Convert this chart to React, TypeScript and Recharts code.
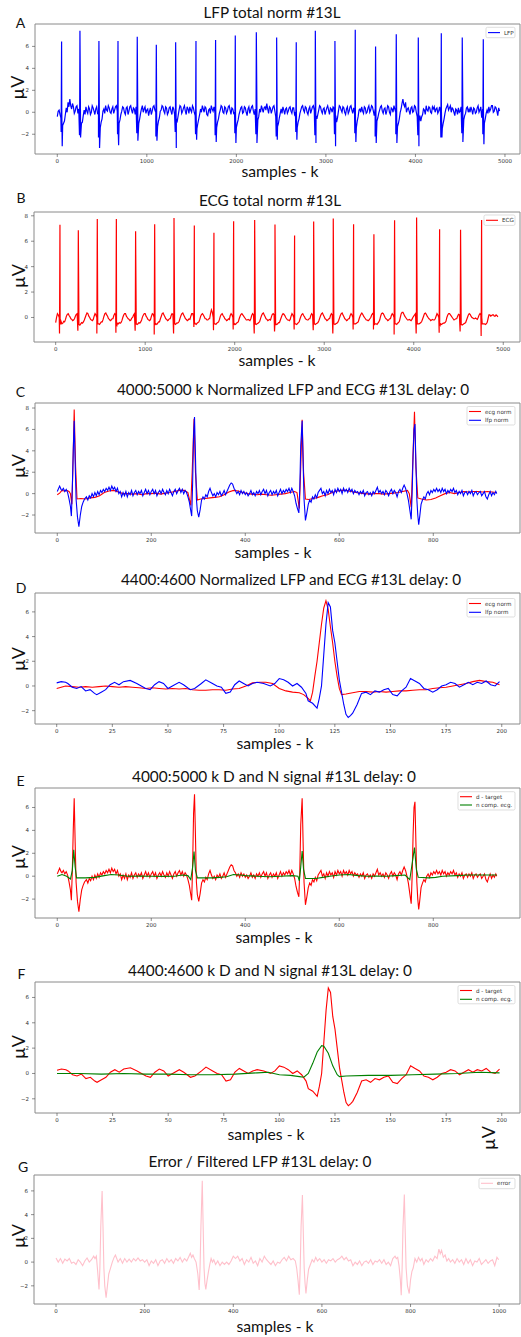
import React from 'react';
import { LineChart, Line, XAxis, YAxis, ReferenceArea } from 'recharts';

type Pt = [number, number];

// ---------- Panel A / B : whole recording (samples 0..4940) ----------
const beatSamples = [48, 253, 465, 678, 893, 1106, 1322, 1549, 1768, 1988, 2223, 2450, 2669, 2882, 3101, 3328, 3555, 3786, 4032, 4289, 4523, 4758];
const lfpPreDip = [-1.8, -2.1, -2.3, -2.0, -1.9, -2.2, -1.8, -2.0, -2.1, -1.9, -2.0, -2.2, -1.8, -2.1, -2.0, -1.9, -2.2, -2.0, -2.1, -2.3, -1.9, -2.0];
const lfpPeak = [6.45, 7.43, 6.5, 6.5, 6.88, 6.15, 6.37, 6.5, 6.58, 7.0, 7.28, 6.8, 6.37, 7.43, 6.5, 7.52, 6.0, 7.1, 6.82, 7.19, 6.8, 6.64];
const lfpTrough = [-3.1, -2.3, -3.25, -3.0, -2.6, -2.6, -3.25, -2.5, -2.7, -2.8, -2.8, -2.5, -2.5, -2.8, -3.1, -2.7, -2.8, -2.8, -3.1, -2.3, -2.7, -2.9];
const noiseStep = 20;
// LFP baseline at samples 0, 20, 40, ...
const lfpNoise = [
  -0.4, 0.2, -0.5, -1.2, -0.8, 0.4, 0.9, 1.2, 0.3, 0.5,
  0.1, 0.6, 0.3, -1.6, -0.9, 0.2, 0.5, -0.1, 0.3, 0.0,
  0.4, -0.2, 0.5, 0.0, -1.4, -0.6, 0.3, 0.6, 0.1, 0.4,
  -0.1, 0.5, 0.2, 0.6, -1.5, -0.7, 0.1, 0.4, -0.2, 0.5,
  0.1, 0.6, -0.1, 0.3, 0.5, -1.4, -0.6, 0.3, 0.0, 0.5,
  0.2, -0.3, 0.4, 0.1, 0.6, 0.0, -1.3, -0.5, 0.2, 0.5,
  -0.1, 0.4, 0.0, 0.5, -0.2, 0.3, 0.0, -0.8, 0.2, 0.5,
  0.1, 0.6, -0.2, 0.3, 0.5, 0.0, 0.4, -0.3, -1.5, -0.6,
  0.3, 0.6, 0.0, 0.4, -0.3, 0.3, 0.6, 0.1, 0.0, -1.4,
  -0.6, 0.2, 0.5, -0.1, 0.4, 0.1, 0.6, -0.2, 0.3, 0.0,
  -1.4, -0.7, 0.1, 0.5, 0.0, 0.4, -0.3, 0.5, 0.2, 0.6,
  -0.2, 0.0, -0.7, 0.3, 0.6, 0.0, 0.5, 0.8, -0.1, 0.4,
  0.2, 0.6, -0.4, -1.3, -0.5, 0.3, 0.5, -0.2, 0.4, 0.1,
  0.5, -0.1, 0.4, 0.0, -1.4, -0.6, 0.2, 0.6, 0.0, 0.4,
  -0.2, 0.5, 0.2, 0.6, 0.0, -0.6, 0.2, 0.5, -0.1, 0.4,
  0.1, 0.6, -0.2, 0.3, 0.5, 0.0, -0.9, 0.1, 0.5, 0.0,
  0.4, -0.2, 0.5, 0.1, 0.6, -0.1, 0.0, -1.4, -0.4, 0.3,
  0.5, -0.1, 0.4, 0.0, 0.6, 0.2, 0.5, -0.3, -1.3, -0.5,
  0.2, 0.6, -0.1, 0.4, 0.1, 0.5, -0.2, 0.3, 0.6, 0.0,
  -1.3, -0.6, 0.3, 1.2, 0.5, 0.0, 0.4, -0.2, 0.5, 0.1,
  0.5, -0.4, -0.9, -0.8, -0.2, 0.2, 0.6, 0.1, 0.4, -0.1,
  0.3, 0.0, 0.4, 0.1, 0.0, -1.5, -0.6, 0.3, 0.7, 0.4,
  0.0, 0.3, -0.3, 0.2, 0.4, 0.1, 0.0, -0.7, -0.1, 0.5,
  0.3, 0.5, -0.2, 0.3, 0.0, 0.6, 0.2, -0.5, 0.0, -0.6,
  0.2, 0.5, 0.3, 0.6, 0.1, 0.4, -0.3, 0.1,
];
// LFP baseline at samples 10, 30, 50, ...
const lfpNoiseMid = [
  0.1, -0.2, 0.3, -1.0, -0.2, 0.0, 0.5, 0.6, 0.8, -0.1,
  0.5, -0.1, 0.0, -1.0, -0.3, -0.2, 0.1, 0.5, -0.2, 0.6,
  0.1, 0.3, -0.1, -0.5, -0.9, 0.1, -0.1, 0.2, 0.6, 0.0,
  0.3, -0.1, 0.5, 0.1, -1.0, -0.2, 0.5, 0.0, 0.4, -0.2,
  0.5, 0.2, 0.4, -0.2, 0.1, -1.0, -0.1, 0.6, 0.3, -0.1,
  0.3, 0.1, -0.2, 0.5, 0.2, -0.5, -0.8, 0.1, 0.6, 0.1,
  0.5, -0.2, 0.4, 0.1, 0.5, -0.2, -0.6, -0.3, 0.6, -0.1,
  0.4, 0.1, 0.5, -0.1, 0.2, 0.6, 0.0, 0.3, -1.0, -0.2,
  0.0, 0.3, 0.5, -0.2, 0.2, -0.1, 0.3, 0.5, 0.2, -0.9,
  -0.1, 0.6, 0.0, 0.5, -0.1, 0.5, 0.2, 0.4, -0.1, 0.4,
  -1.0, -0.2, 0.4, -0.1, 0.5, 0.0, 0.3, -0.1, 0.5, 0.1,
  0.3, 0.0, -0.4, 0.0, 0.3, 0.4, 0.2, 0.3, 0.5, -0.1,
  0.5, 0.1, 0.2, -1.0, -0.1, -0.1, 0.2, 0.3, -0.1, 0.4,
  0.1, 0.4, -0.2, 0.3, -0.9, -0.1, 0.5, 0.2, 0.5, 0.0,
  0.3, -0.1, 0.5, 0.2, -0.3, -0.2, 0.6, 0.1, 0.3, -0.2,
  0.4, 0.2, 0.4, 0.0, 0.4, -0.3, -0.5, 0.6, 0.2, 0.5,
  0.0, 0.3, -0.1, 0.5, 0.2, 0.4, -0.3, -0.8, 0.2, 0.0,
  0.1, 0.5, -0.1, 0.4, 0.0, 0.6, 0.1, 0.3, -0.8, -0.1,
  0.5, 0.1, 0.3, -0.2, 0.6, 0.0, 0.4, 0.0, 0.3, 0.4,
  -1.0, 0.0, 0.8, 0.7, 0.9, 0.3, 0.1, 0.4, 0.0, 0.6,
  0.0, 0.1, -0.3, -0.4, 0.3, -0.2, 0.2, 0.5, 0.0, 0.5,
  0.5, 0.3, -0.1, 0.5, 0.3, -1.0, -0.1, 0.5, 0.2, 0.6,
  0.4, 0.0, 0.3, -0.2, 0.0, 0.5, -0.3, -0.3, 0.4, 0.0,
  0.0, 0.2, 0.4, -0.1, 0.4, 0.0, 0.5, 0.3, -1.0, -0.1,
  -0.1, 0.1, 0.6, 0.0, 0.5, 0.1, 0.4,
];

const ecgQDip = [-1.26, -1.05, -1.26, -1.2, -1.05, -1.34, -1.26, -0.75, -1.0, -0.95, -1.26, -1.1, -0.95, -1.0, -1.26, -0.95, -0.95, -1.34, -1.26, -1.2, -1.1, -1.45];
const ecgPeak = [7.29, 6.87, 7.74, 7.74, 6.79, 7.34, 7.82, 7.24, 6.66, 7.58, 7.68, 7.32, 6.45, 7.55, 7.79, 7.34, 6.55, 7.66, 7.87, 6.95, 6.9, 7.68];
const ecgS = [-0.5, -0.55, -0.5, -0.6, -0.5, -0.55, -0.5, -0.45, -0.5, -0.55, -0.5, -0.6, -0.5, -0.55, -0.5, -0.5, -0.55, -0.5, -0.5, -0.6, -0.55, -0.5];
// ECG baseline at samples 0, 20, 40, ...
const ecgBase = [
  -0.4, 0.3, 0.0, -0.3, -0.45, -0.35, 0.1, 0.3, 0.05, -0.15,
  -0.2, 0.1, 0.3, -0.5, -0.5, -0.45, -0.2, 0.2, 0.3, 0.0,
  -0.2, -0.15, 0.3, 0.0, -0.5, -0.45, -0.35, 0.1, 0.35, 0.1,
  -0.15, -0.2, -0.1, 0.3, -0.5, -0.5, -0.45, -0.25, 0.2, 0.3,
  0.0, -0.15, -0.2, 0.0, 0.3, -0.5, -0.5, -0.45, -0.2, 0.2,
  0.3, 0.0, -0.2, -0.15, 0.3, 0.0, -0.5, -0.45, -0.35, 0.1,
  0.35, 0.05, -0.15, -0.2, -0.1, 0.3, 0.0, -0.55, -0.45, -0.3,
  0.15, 0.35, 0.05, -0.15, -0.2, -0.15, 0.3, 0.1, -0.5, -0.45,
  -0.35, 0.1, 0.3, 0.05, -0.1, -0.2, -0.1, 0.6, 0.0, -0.5,
  -0.45, -0.35, 0.1, 0.3, 0.05, -0.15, -0.2, -0.15, 0.3, 0.0,
  -0.5, -0.45, -0.35, 0.1, 0.3, 0.1, -0.1, -0.2, -0.2, -0.1,
  0.3, 0.0, -0.55, -0.45, -0.3, 0.15, 0.35, 0.05, -0.15, -0.2,
  -0.2, 0.25, 0.2, -0.5, -0.5, -0.4, 0.0, 0.3, 0.15, -0.1,
  -0.2, -0.15, 0.3, 0.0, -0.5, -0.5, -0.35, 0.1, 0.3, 0.05,
  -0.15, -0.2, -0.1, 0.3, 0.0, -0.55, -0.45, -0.25, 0.15, 0.35,
  0.05, -0.15, -0.2, -0.1, 0.3, 0.0, -0.55, -0.45, -0.25, 0.15,
  0.35, 0.05, -0.15, -0.2, -0.1, 0.3, 0.0, -0.5, -0.45, -0.35,
  0.1, 0.35, 0.1, -0.1, -0.2, -0.2, 0.0, 0.3, 0.0, -0.5,
  -0.45, -0.2, 0.3, 0.3, 0.0, -0.15, -0.2, -0.1, 0.3, 0.0,
  -0.5, -0.45, -0.3, 0.3, 0.4, 0.1, -0.1, -0.2, -0.2, -0.15,
  0.1, 0.3, -0.5, -0.5, -0.4, -0.1, 0.3, 0.25, 0.0, -0.15,
  -0.2, -0.2, -0.1, 0.3, 0.0, -0.5, -0.5, -0.45, -0.3, 0.2,
  0.3, 0.1, -0.1, -0.15, -0.1, 0.25, 0.0, -0.6, -0.5, -0.4,
  0.0, 0.3, 0.1, -0.05, -0.1, -0.1, 0.0, 0.3, 0.0, -0.5,
  -0.55, -0.4, 0.2, 0.1, 0.2, 0.1, 0.2, 0.05,
];
// ECG baseline at samples 10, 30, 50, ...
const ecgBaseMid = [
  0.0, 0.2, -0.5, -0.5, -0.3, -0.15, 0.25, 0.15, -0.1, -0.25,
  -0.1, 0.25, 0.1, -0.6, -0.4, -0.35, 0.0, 0.35, 0.1, -0.15,
  -0.25, 0.1, 0.2, -0.5, -0.55, -0.35, -0.15, 0.3, 0.2, -0.1,
  -0.25, -0.1, 0.15, 0.2, -0.45, -0.4, -0.4, 0.0, 0.3, 0.1,
  -0.1, -0.25, -0.05, 0.2, 0.1, -0.55, -0.4, -0.35, 0.05, 0.3,
  0.1, -0.15, -0.25, 0.1, 0.25, -0.5, -0.55, -0.35, -0.1, 0.3,
  0.2, -0.1, -0.25, -0.1, 0.15, 0.25, -0.5, -0.45, -0.4, -0.05,
  0.3, 0.2, -0.1, -0.25, -0.1, 0.1, 0.3, -0.5, -0.55, -0.4,
  -0.15, 0.25, 0.2, -0.1, -0.2, -0.1, 0.3, 0.4, -0.5, -0.55,
  -0.4, -0.15, 0.25, 0.15, -0.1, -0.25, -0.1, 0.15, 0.2, -0.5,
  -0.55, -0.4, -0.1, 0.25, 0.2, 0.0, -0.2, -0.15, -0.25, 0.15,
  0.2, -0.5, -0.5, -0.4, -0.05, 0.3, 0.2, -0.1, -0.25, -0.15,
  0.05, 0.3, -0.4, -0.55, -0.4, -0.2, 0.2, 0.25, 0.0, -0.2,
  -0.25, 0.1, 0.2, -0.5, -0.55, -0.4, -0.1, 0.25, 0.15, -0.1,
  -0.2, -0.1, 0.15, 0.2, -0.5, -0.5, -0.4, -0.05, 0.3, 0.2,
  -0.1, -0.25, -0.1, 0.15, 0.2, -0.5, -0.5, -0.4, -0.05, 0.3,
  0.2, -0.1, -0.25, -0.1, 0.15, 0.2, -0.5, -0.5, -0.4, -0.1,
  0.25, 0.25, 0.0, -0.2, -0.25, -0.1, 0.2, 0.2, -0.5, -0.55,
  -0.35, 0.1, 0.35, 0.15, -0.1, -0.25, -0.1, 0.15, 0.2, -0.5,
  -0.55, -0.4, 0.0, 0.4, 0.25, 0.0, -0.2, -0.15, -0.25, 0.0,
  0.2, 0.2, -0.5, -0.45, -0.3, 0.1, 0.35, 0.1, -0.1, -0.25,
  -0.15, -0.2, 0.1, 0.2, -0.5, -0.55, -0.45, -0.4, 0.0, 0.3,
  0.2, 0.0, -0.2, -0.1, 0.1, 0.2, -0.5, -0.55, -0.45, -0.2,
  0.2, 0.25, 0.0, -0.1, -0.05, -0.15, 0.2, 0.2, -0.5, -0.5,
  -0.5, -0.1, 0.2, 0.15, 0.2, 0.1, 0.15,
];

// ---------- Panel C / E : window 4000:5000 ----------
const winEcg: Pt[] = [
  [0, -0.1], [5, 0.05], [10, 0.3], [15, 0.25], [20, 0.3], [25, 0.2], [28, 0.0], [31, -1.0], [33, 2.0], [36, 7.85], [39, 2.5], [42, -0.5],
  [50, -0.45], [60, -0.5], [70, -0.4], [80, -0.35], [90, -0.2], [100, 0.1], [110, 0.25], [120, 0.3], [130, 0.15], [140, 0.0], [150, 0.0],
  [160, -0.05], [170, 0.0], [180, -0.1], [190, 0.0], [200, 0.0], [210, 0.05], [220, -0.05], [230, 0.05], [240, 0.1], [250, 0.2], [260, 0.3],
  [270, 0.3], [278, 0.1], [284, -1.1], [287, 2.0], [291, 7.0], [294, 2.0], [298, -0.6], [305, -0.5], [315, -0.45], [325, -0.4], [335, -0.35],
  [345, -0.3], [355, -0.1], [365, 0.15], [375, 0.3], [385, 0.25], [395, 0.1], [405, 0.0], [415, -0.05], [425, -0.1], [435, -0.05], [445, -0.1],
  [455, -0.15], [465, -0.1], [475, -0.05], [485, 0.0], [495, 0.1], [505, 0.2], [510, 0.1], [515, -1.4], [518, 2.5], [521, 6.9], [524, 2.0],
  [528, -0.5], [535, -0.55], [545, -0.45], [555, -0.35], [565, -0.2], [575, -0.1], [585, 0.1], [595, 0.25], [605, 0.3], [615, 0.3], [625, 0.2],
  [635, 0.1], [645, 0.05], [655, 0.0], [665, -0.05], [675, 0.0], [685, 0.0], [695, -0.05], [705, 0.0], [715, 0.05], [725, 0.1], [735, 0.2],
  [745, 0.3], [749, 0.0], [753, -1.3], [756, 2.5], [760, 7.65], [763, 2.5], [767, -0.4], [775, -0.5], [785, -0.6], [795, -0.55], [805, -0.4],
  [815, -0.2], [825, 0.0], [835, 0.1], [845, 0.0], [855, 0.1], [865, 0.2], [875, 0.15], [885, 0.2], [895, 0.2], [905, 0.15], [915, 0.2],
  [925, 0.15], [935, 0.1],
];
const winLfp: Pt[] = [
  [0, 0.2], [5, 0.7], [8, 0.4], [10, 0.3], [13, 0.5], [16, 0.2], [19, 0.4], [22, 0.1], [25, -0.5], [28, -1.2], [30, -2.1], [32, 0.5], [34, 4.0],
  [36, 6.8], [38, 3.0], [40, -0.5], [43, -2.2], [46, -3.1], [49, -2.0], [52, -1.2], [55, -0.8], [58, -0.5], [62, -0.3], [65, -0.6], [68, -0.2],
  [71, -0.4], [74, 0.0], [77, -0.3], [80, 0.1], [83, -0.2], [86, 0.2], [89, -0.1], [92, 0.3], [95, 0.1], [98, 0.4], [101, 0.2], [104, 0.5],
  [107, 0.3], [110, 0.6], [113, 0.3], [116, 0.7], [119, 0.4], [122, 0.6], [125, 0.2], [128, 0.5], [131, 0.0], [134, 0.2], [137, -0.3], [140, 0.1],
  [143, -0.2], [146, 0.2], [149, -0.3], [152, 0.1], [155, -0.1], [158, 0.3], [161, -0.2], [164, 0.1], [167, 0.3], [170, -0.1], [173, 0.2],
  [176, 0.0], [179, 0.3], [182, -0.2], [185, 0.1], [188, 0.4], [191, 0.0], [194, 0.3], [197, -0.1], [200, 0.2], [203, 0.4], [206, 0.0],
  [209, 0.3], [212, -0.2], [215, 0.1], [218, 0.3], [221, 0.0], [224, 0.4], [227, 0.1], [230, -0.1], [233, 0.3], [236, 0.0], [239, 0.4],
  [242, 0.1], [245, -0.2], [248, 0.2], [251, 0.4], [254, 0.0], [257, 0.3], [260, 0.5], [263, 0.1], [266, 0.4], [269, 0.0], [272, 0.3],
  [275, 0.1], [278, -0.3], [281, -0.8], [284, -1.6], [286, -2.1], [288, 1.0], [290, 5.5], [292, 7.15], [294, 3.5], [296, -0.5], [298, -1.6],
  [301, -2.2], [304, -1.5], [307, -0.6], [310, -0.3], [313, -0.5], [316, -0.1], [319, -0.3], [322, 0.2], [325, 0.5], [328, 0.1], [331, -0.2],
  [334, 0.0], [337, -0.3], [340, 0.1], [343, -0.1], [346, 0.2], [349, -0.2], [352, 0.0], [355, 0.3], [358, -0.1], [361, 0.2], [364, 0.5],
  [367, 0.8], [370, 1.0], [373, 0.9], [376, 0.5], [379, 0.3], [382, 0.0], [385, 0.2], [388, -0.1], [391, 0.3], [394, 0.0], [397, 0.2],
  [400, -0.1], [403, 0.1], [406, -0.2], [409, 0.0], [412, 0.3], [415, -0.1], [418, 0.1], [421, -0.2], [424, 0.2], [427, 0.0], [430, 0.3],
  [433, -0.1], [436, 0.2], [439, 0.4], [442, 0.0], [445, 0.3], [448, -0.2], [451, 0.1], [454, 0.3], [457, -0.1], [460, 0.2], [463, 0.0],
  [466, 0.3], [469, -0.2], [472, 0.1], [475, 0.4], [478, 0.0], [481, 0.3], [484, 0.1], [487, 0.4], [490, 0.2], [493, 0.5], [496, 0.1],
  [499, 0.5], [502, 0.2], [505, -0.2], [508, -0.9], [511, -1.4], [514, -1.8], [516, 0.5], [518, 4.5], [521, 6.8], [523, 3.0], [525, -0.5],
  [528, -2.5], [531, -1.8], [534, -1.0], [537, -0.6], [540, -0.8], [543, -0.3], [546, -0.5], [549, -0.1], [552, -0.4], [555, 0.1], [558, 0.3],
  [561, 0.5], [564, 0.0], [567, 0.2], [570, -0.2], [573, 0.3], [576, 0.0], [579, 0.4], [582, 0.1], [585, 0.3], [588, -0.1], [591, 0.4],
  [594, 0.1], [597, 0.5], [600, 0.2], [603, 0.4], [606, 0.0], [609, 0.5], [612, 0.2], [615, 0.4], [618, 0.1], [621, 0.5], [624, 0.2],
  [627, 0.4], [630, 0.0], [633, 0.3], [636, 0.1], [639, 0.2], [642, -0.1], [645, 0.2], [648, 0.0], [651, 0.3], [654, -0.2], [657, 0.1],
  [660, 0.2], [663, -0.1], [666, 0.1], [669, -0.2], [672, 0.2], [675, 0.0], [678, 0.3], [681, 0.6], [684, 0.1], [687, 0.3], [690, 0.0],
  [693, 0.2], [696, -0.1], [699, 0.3], [702, 0.1], [705, -0.2], [708, 0.2], [711, 0.4], [714, 0.0], [717, 0.3], [720, 0.1], [723, -0.3],
  [726, 0.2], [729, 0.4], [732, 0.1], [735, 0.5], [738, 0.8], [741, 0.5], [744, 0.0], [747, -0.6], [750, -1.5], [753, -2.4], [755, 0.0],
  [757, 3.5], [759, 6.0], [761, 6.5], [763, 3.0], [765, -0.5], [767, -2.0], [769, -2.9], [771, -2.2], [774, -1.0], [777, -0.6], [780, -0.3],
  [783, -0.5], [786, 0.0], [789, 0.2], [792, -0.1], [795, 0.3], [798, 0.1], [801, 0.4], [804, 0.2], [807, 0.5], [810, 0.2], [813, 0.4],
  [816, 0.1], [819, 0.5], [822, 0.2], [825, 0.4], [828, 0.0], [831, 0.3], [834, 0.1], [837, 0.4], [840, 0.2], [843, 0.5], [846, 0.1],
  [849, 0.3], [852, -0.1], [855, 0.2], [858, 0.0], [861, 0.3], [864, -0.2], [867, 0.1], [870, 0.2], [873, -0.1], [876, 0.2], [879, 0.0],
  [882, 0.3], [885, -0.2], [888, 0.1], [891, 0.2], [894, -0.1], [897, 0.1], [900, 0.2], [903, -0.2], [906, 0.0], [909, 0.2], [912, -0.3],
  [915, -0.5], [918, -0.1], [921, 0.2], [924, -0.2], [927, 0.1], [930, -0.1], [933, 0.2], [935, 0.0],
];
const winNcomp: Pt[] = [
  [0, 0.0], [10, 0.15], [20, 0.0], [28, -0.25], [32, 0.5], [35, 2.3], [38, 0.8], [41, -0.15], [60, -0.15], [80, -0.1], [100, 0.05],
  [115, 0.15], [130, 0.1], [150, 0.0], [175, 0.02], [200, 0.0], [225, -0.02], [250, 0.0], [265, 0.1], [278, 0.05], [284, -0.3], [288, 0.8],
  [291, 2.15], [294, 0.5], [298, -0.15], [315, -0.15], [330, -0.15], [345, -0.1], [360, -0.05], [375, 0.15], [390, 0.1], [400, 0.05],
  [425, 0.0], [450, -0.05], [475, 0.0], [500, 0.05], [512, 0.0], [515, -0.4], [518, 0.8], [521, 2.2], [524, 0.6], [528, -0.2], [550, -0.2],
  [565, -0.1], [580, 0.0], [600, 0.1], [620, 0.15], [640, 0.05], [660, 0.0], [680, 0.02], [700, 0.0], [720, 0.05], [740, 0.1], [750, -0.3],
  [754, 0.8], [760, 2.5], [764, 0.6], [768, -0.1], [790, -0.15], [805, -0.1], [820, 0.0], [850, 0.05], [875, 0.1], [900, 0.1], [935, 0.1],
];

// ---------- Panel D / F : window 4400:4600 ----------
const zoomEcg: Pt[] = [
  [0, -0.2], [2, -0.1], [4, 0.0], [7, -0.05], [10, -0.1], [13, -0.05], [16, -0.1], [19, -0.05], [22, 0.0], [25, -0.05], [28, -0.1],
  [31, -0.05], [34, -0.1], [37, -0.15], [40, -0.2], [43, -0.15], [46, -0.2], [49, -0.25], [52, -0.2], [55, -0.25], [58, -0.2], [61, -0.3],
  [64, -0.35], [67, -0.35], [70, -0.3], [73, -0.3], [76, -0.35], [79, -0.25], [82, -0.2], [85, 0.0], [88, 0.25], [91, 0.3], [94, 0.3],
  [97, 0.2], [100, -0.2], [103, -0.4], [106, -0.5], [109, -0.55], [111, -0.7], [113, -1.0], [114, -1.2], [115, -0.5], [116, 0.8],
  [117, 2.0], [118, 3.5], [119, 5.0], [120, 6.3], [121, 6.9], [122, 6.2], [123, 4.8], [124, 3.5], [125, 2.0], [126, 0.8], [127, -0.2],
  [128, -0.7], [130, -0.65], [133, -0.55], [136, -0.45], [139, -0.45], [142, -0.5], [145, -0.45], [148, -0.5], [151, -0.45], [154, -0.4],
  [157, -0.4], [160, -0.35], [163, -0.3], [166, -0.3], [169, -0.2], [172, -0.15], [175, -0.1], [178, 0.0], [181, 0.1], [184, 0.2],
  [187, 0.35], [190, 0.45], [193, 0.35], [196, 0.3], [199, 0.1],
];
const zoomLfp: Pt[] = [
  [0, 0.25], [2, 0.35], [4, 0.3], [5, 0.2], [7, -0.1], [9, -0.2], [11, -0.05], [13, -0.4], [15, -0.3], [17, -0.6], [18, -0.7], [20, -0.5],
  [22, -0.3], [24, 0.1], [26, 0.3], [28, 0.1], [30, 0.35], [33, 0.45], [36, 0.2], [38, 0.0], [40, -0.2], [42, -0.3], [44, 0.1], [46, 0.35],
  [48, 0.2], [50, -0.2], [52, 0.0], [55, 0.3], [57, 0.1], [60, -0.3], [62, -0.2], [65, 0.2], [67, 0.5], [70, 0.2], [72, 0.0], [74, -0.1],
  [76, -0.6], [78, -0.5], [80, 0.1], [82, 0.4], [84, 0.2], [86, 0.0], [88, 0.2], [90, 0.3], [93, 0.2], [96, 0.0], [98, 0.2], [100, 0.6],
  [102, 0.5], [104, 0.3], [106, 0.0], [108, 0.2], [110, -0.1], [112, -0.6], [113, -1.2], [115, -1.4], [117, -1.8], [118, -1.0], [119, 0.0],
  [120, 2.5], [121, 5.0], [122, 6.75], [123, 6.4], [124, 4.5], [125, 3.5], [126, 2.0], [127, 0.5], [128, -0.5], [129, -1.5], [130, -2.3],
  [131, -2.55], [132, -2.4], [133, -2.2], [135, -1.5], [137, -0.6], [139, -0.5], [141, -0.7], [143, -0.4], [145, -0.5], [147, -0.3],
  [149, -0.2], [151, -0.7], [153, -0.8], [155, -0.4], [157, -0.1], [159, 0.6], [161, 0.4], [163, 0.2], [165, -0.2], [167, -0.3], [169, -0.5],
  [171, -0.3], [173, 0.0], [175, 0.1], [177, 0.3], [179, 0.2], [181, -0.1], [183, 0.1], [185, 0.3], [187, 0.1], [189, 0.3], [191, 0.2],
  [193, 0.4], [195, 0.1], [197, 0.0], [199, 0.35],
];
const zoomNcomp: Pt[] = [
  [0, 0.0], [10, 0.0], [20, -0.05], [30, 0.0], [40, -0.05], [50, -0.05], [60, -0.1], [70, -0.1], [80, -0.05], [90, 0.05], [95, 0.1],
  [100, -0.1], [105, -0.15], [109, -0.25], [111, -0.3], [113, 0.0], [115, 0.8], [117, 1.7], [119, 2.2], [120, 2.15], [122, 1.6], [124, 0.6],
  [126, -0.1], [127, -0.25], [130, -0.2], [140, -0.15], [150, -0.15], [160, -0.1], [170, -0.05], [180, 0.0], [190, 0.1], [199, 0.05],
];

// ---------- Panel G : error / filtered LFP ----------
const errorSig: Pt[] = [
  [0, 0.35], [5, 0.0], [10, 0.3], [15, -0.1], [20, 0.25], [25, 0.1], [30, 0.3], [35, -0.1], [40, 0.0], [45, -0.2], [50, 0.2], [55, 0.0],
  [60, -0.3], [65, 0.1], [70, 0.35], [75, 0.0], [80, 0.2], [85, 0.5], [88, 0.3], [91, 0.5], [94, -0.8], [97, -2.3], [99, -0.5], [101, 3.0],
  [104, 6.0], [106, 3.0], [108, -0.5], [110, -2.0], [113, -3.0], [116, -2.0], [119, -1.0], [123, -0.5], [127, 0.0], [131, 0.4], [134, 0.6],
  [137, 0.3], [140, 0.0], [145, 0.3], [150, -0.1], [155, 0.3], [160, 0.0], [165, 0.25], [170, 0.0], [175, 0.3], [180, 0.1], [185, 0.35],
  [190, 0.1], [195, 0.2], [200, 0.0], [205, 0.2], [210, -0.3], [215, 0.1], [220, -0.1], [225, 0.2], [230, -0.3], [235, 0.1], [240, 0.2],
  [245, -0.1], [250, 0.3], [255, 0.0], [260, 0.2], [265, -0.1], [270, 0.3], [275, 0.1], [280, 0.4], [285, 0.0], [290, 0.3], [295, 0.1],
  [300, 0.5], [303, 0.75], [306, 0.4], [309, 0.6], [312, 0.3], [316, 0.0], [320, -1.0], [323, -2.35], [325, -0.5], [327, 3.0], [330, 6.85],
  [332, 3.0], [334, -0.5], [336, -1.8], [338, -2.3], [341, -1.5], [344, -0.8], [347, -0.2], [350, 0.3], [353, 0.0], [356, 0.2], [360, -0.2],
  [365, 0.1], [370, -0.3], [375, 0.0], [380, -0.2], [385, 0.0], [390, -0.2], [395, 0.1], [400, 0.5], [405, 0.3], [410, 0.5], [415, 0.1],
  [420, 0.3], [425, -0.2], [430, 0.2], [435, 0.0], [440, 0.4], [445, -0.1], [450, 0.1], [455, -0.3], [460, 0.3], [465, 0.0], [470, 0.5],
  [475, 0.2], [480, 0.0], [485, -0.2], [490, 0.1], [495, -0.3], [500, 0.0], [505, -0.1], [510, 0.2], [515, 0.4], [520, 0.1], [525, 0.5],
  [530, 0.2], [535, 0.3], [540, 0.1], [543, -0.5], [546, -1.5], [549, -2.75], [551, -0.5], [553, 3.0], [556, 5.65], [558, 2.5], [560, -0.5],
  [562, -1.8], [564, -2.65], [567, -1.5], [570, -0.6], [574, -0.2], [578, 0.2], [582, 0.0], [586, 0.4], [590, 0.1], [595, 0.3], [600, 0.0],
  [605, 0.2], [610, -0.1], [615, 0.2], [620, 0.1], [625, 0.3], [630, 0.0], [635, 0.2], [640, 0.3], [645, 0.5], [650, 0.2], [655, 0.4],
  [660, 0.1], [665, 0.2], [670, -0.3], [675, 0.0], [680, -0.2], [685, 0.1], [690, -0.3], [695, 0.0], [700, 0.1], [705, -0.1], [710, 0.2],
  [715, -0.2], [720, 0.1], [725, 0.0], [730, 0.2], [735, -0.1], [740, 0.2], [745, -0.2], [750, 0.0], [755, -0.3], [760, 0.3], [765, 0.5],
  [768, 0.3], [771, 0.4], [774, -0.3], [777, -1.5], [779, -2.8], [781, -0.5], [783, 3.0], [786, 5.7], [788, 2.5], [790, -0.5], [793, -2.0],
  [797, -2.65], [800, -1.5], [803, -0.8], [806, -0.5], [810, 0.3], [814, 0.0], [818, 0.4], [822, 0.1], [826, 0.3], [830, -0.2], [835, 0.2],
  [840, 0.0], [845, 0.3], [850, 0.1], [855, 0.5], [860, 0.3], [864, 1.1], [867, 0.7], [870, 1.0], [874, 0.4], [878, 0.6], [882, 0.1],
  [886, 0.3], [890, 0.0], [895, 0.2], [900, -0.1], [905, 0.3], [910, 0.0], [915, 0.2], [920, -0.2], [925, 0.3], [930, -0.1], [935, 0.2],
  [940, -0.3], [945, 0.1], [950, 0.0], [955, 0.3], [960, -0.2], [965, 0.0], [970, 0.2], [975, -0.1], [980, 0.1], [985, 0.2], [990, -0.3],
  [995, 0.4], [999, 0.2],
];

// ---------- Ticks and texts ----------
const ticksLong = [0, 1000, 2000, 3000, 4000, 5000];
const ticksWin = [0, 200, 400, 600, 800];
const ticksZoom = [0, 25, 50, 75, 100, 125, 150, 175, 200];
const ticksErr = [0, 200, 400, 600, 800, 1000];
const yTicksA = [-2, 0, 2, 4, 6];
const yTicksB = [0, 2, 4, 6, 8];
const yTicksC = [-2, 0, 2, 4, 6, 8];
const yTicksDG = [-2, 0, 2, 4, 6];

const panelLetters = ['A', 'B', 'C', 'D', 'E', 'F', 'G'];
const panelTitles = [
  'LFP total norm #13L',
  'ECG total norm #13L',
  '4000:5000 k Normalized LFP and ECG #13L delay: 0',
  '4400:4600 Normalized LFP and ECG #13L delay: 0',
  '4000:5000 k D and N signal #13L delay: 0',
  '4400:4600 k D and N signal #13L delay: 0',
  'Error / Filtered LFP #13L delay: 0',
];
const xLabel = 'samples - k';
const yLabel = 'µV';

const BLUE = '#0000ff';
const RED = '#ff0000';
const GREEN = '#008000';
const PINK = '#ffc0cb';
const TXT = "Lato, 'Open Sans', sans-serif";
const TICKF = "'DejaVu Sans', sans-serif";

const toXY = (p: Pt[]) => p.map(([x, y]) => ({ x, y }));
function spikeTrain(step: number, base: number[], mid: number[], beats: number[], pre: number[], peak: number[], post: number[]) {
  const pts = base.map((y, i) => ({ x: i * step, y }));
  mid.forEach((y, i) => pts.push({ x: i * step + step / 2, y }));
  beats.forEach((s, k) => {
    pts.push({ x: s - 5, y: pre[k] }, { x: s, y: peak[k] }, { x: s + 7, y: post[k] });
  });
  return pts.sort((a, b) => a.x - b.x);
}

const lfpAll = spikeTrain(noiseStep, lfpNoise, lfpNoiseMid, beatSamples, lfpPreDip, lfpPeak, lfpTrough);
const ecgAll = spikeTrain(noiseStep, ecgBase, ecgBaseMid, beatSamples, ecgQDip, ecgPeak, ecgS);

type Series = { name: string; color: string; data: { x: number; y: number }[]; w: number };
type Cfg = {
  top: number; bottom: number; left: number; right: number;
  xd: [number, number]; yd: [number, number]; xt: number[]; yt: number[];
  series: Series[];
  title: { cx: number; by: number; w: number };
  letter: { x: number; by: number };
  xl: { cx: number; by: number };
  yl: { cx: number; cy: number };
  legend: { x: number; y: number; w: number; h: number; rows: number[] };
};

const panels: Cfg[] = [
  {
    top: 24, bottom: 154, left: 35, right: 520, xd: [-249, 5168], yd: [-3.8, 8.04], xt: ticksLong, yt: yTicksA,
    series: [{ name: 'LFP', color: BLUE, data: lfpAll, w: 1.2 }],
    title: { cx: 272, by: 18.3, w: 137 }, letter: { x: 20.5, by: 28.3 }, xl: { cx: 280, by: 177 }, yl: { cx: 16.5, cy: 87.5 },
    legend: { x: 486, y: 27.3, w: 29, h: 10.4, rows: [32.6] },
  },
  {
    top: 212, bottom: 342, left: 34, right: 520, xd: [-242, 5187], yd: [-1.93, 8.3], xt: ticksLong, yt: yTicksB,
    series: [{ name: 'ECG', color: RED, data: ecgAll, w: 1.2 }],
    title: { cx: 270, by: 206, w: 142 }, letter: { x: 21, by: 203.3 }, xl: { cx: 277, by: 366 }, yl: { cx: 17.5, cy: 276 },
    legend: { x: 484, y: 215, w: 31, h: 10.4, rows: [220.3] },
  },
  {
    top: 403, bottom: 533, left: 35, right: 520, xd: [-47.4, 984.5], yd: [-3.68, 8.47], xt: ticksWin, yt: yTicksC,
    series: [{ name: 'ecg norm', color: RED, data: toXY(winEcg), w: 1.1 }, { name: 'lfp norm', color: BLUE, data: toXY(winLfp), w: 1.1 }],
    title: { cx: 293, by: 395, w: 352 }, letter: { x: 20.5, by: 397.3 }, xl: { cx: 273, by: 558.3 }, yl: { cx: 17.5, cy: 466 },
    legend: { x: 467, y: 406.5, w: 48, h: 18.5, rows: [411.5, 420.3] },
  },
  {
    top: 593, bottom: 724, left: 35, right: 520, xd: [-9.75, 208.2], yd: [-3.08, 7.53], xt: ticksZoom, yt: yTicksDG,
    series: [{ name: 'ecg norm', color: RED, data: toXY(zoomEcg), w: 1.1 }, { name: 'lfp norm', color: BLUE, data: toXY(zoomLfp), w: 1.1 }],
    title: { cx: 291, by: 585, w: 340 }, letter: { x: 21, by: 593.3 }, xl: { cx: 275, by: 749.3 }, yl: { cx: 17.5, cy: 659 },
    legend: { x: 467, y: 598.5, w: 48, h: 18.5, rows: [603.5, 612.3] },
  },
  {
    top: 788, bottom: 918, left: 35, right: 520, xd: [-47.4, 984.5], yd: [-3.65, 7.7], xt: ticksWin, yt: yTicksDG,
    series: [{ name: 'd - target', color: RED, data: toXY(winLfp), w: 1.1 }, { name: 'n comp. ecg.', color: GREEN, data: toXY(winNcomp), w: 1.1 }],
    title: { cx: 274, by: 781.5, w: 284 }, letter: { x: 20.5, by: 786 }, xl: { cx: 274, by: 942.7 }, yl: { cx: 17.5, cy: 857 },
    legend: { x: 458, y: 791.7, w: 57, h: 18.3, rows: [796.7, 805] },
  },
  {
    top: 982, bottom: 1113, left: 35, right: 520, xd: [-9.9, 208.2], yd: [-3.12, 7.22], xt: ticksZoom, yt: yTicksDG,
    series: [{ name: 'd - target', color: RED, data: toXY(zoomLfp), w: 1.1 }, { name: 'n comp. ecg.', color: GREEN, data: toXY(zoomNcomp), w: 1.1 }],
    title: { cx: 270, by: 976, w: 284 }, letter: { x: 21.5, by: 979.3 }, xl: { cx: 266, by: 1140 }, yl: { cx: 17.5, cy: 1047 },
    legend: { x: 458, y: 985.5, w: 57, h: 18.3, rows: [990.5, 999.3] },
  },
  {
    top: 1175, bottom: 1304, left: 34, right: 520, xd: [-49.7, 1047], yd: [-3.53, 7.34], xt: ticksErr, yt: yTicksDG,
    series: [{ name: 'error', color: PINK, data: toXY(errorSig), w: 1.1 }],
    title: { cx: 260, by: 1166.5, w: 223 }, letter: { x: 23, by: 1172.3 }, xl: { cx: 275, by: 1332.3 }, yl: { cx: 18, cy: 1236 },
    legend: { x: 479, y: 1178.3, w: 36, h: 10.4, rows: [1183.3] },
  },
];

const fmt = (v: number) => (v < 0 ? '\u2212' + Math.abs(v) : String(v));

function Panel({ cfg }: { cfg: Cfg }) {
  const mt = 4;
  const xh = 20;
  const h = cfg.bottom - cfg.top + mt + xh;
  const tick = { fontSize: 5.5, fill: '#333', fontFamily: TICKF };
  return (
    <div style={{ position: 'absolute', left: 0, top: cfg.top - mt }}>
      <LineChart width={521} height={h} margin={{ top: mt, right: 521 - cfg.right, bottom: 0, left: 0 }}>
        <XAxis type="number" dataKey="x" domain={cfg.xd} ticks={cfg.xt} allowDataOverflow interval={0}
          axisLine={false} tickLine={{ stroke: '#444', strokeWidth: 0.6 }} tickSize={3} tickMargin={2}
          height={xh} tick={tick} tickFormatter={fmt} />
        <YAxis type="number" domain={cfg.yd} ticks={cfg.yt} allowDataOverflow interval={0} width={cfg.left}
          axisLine={false} tickLine={{ stroke: '#444', strokeWidth: 0.6 }} tickSize={3} tickMargin={3}
          tick={tick} tickFormatter={fmt} />
        <ReferenceArea x1={cfg.xd[0]} x2={cfg.xd[1]} y1={cfg.yd[0]} y2={cfg.yd[1]} ifOverflow="visible"
          fill="none" fillOpacity={0} stroke="#8a8a8a" strokeWidth={1} />
        {cfg.series.map((s) => (
          <Line key={s.name} name={s.name} data={s.data} dataKey="y" type="linear" stroke={s.color}
            strokeWidth={s.w} dot={false} activeDot={false} isAnimationActive={false} />
        ))}
      </LineChart>
    </div>
  );
}

function Overlay() {
  return (
    <svg width={521} height={1337} style={{ position: 'absolute', left: 0, top: 0, pointerEvents: 'none' }}>
      {panels.map((p, i) => (
        <g key={i}>
          <text x={p.title.cx} y={p.title.by} textAnchor="middle" fontFamily={TXT} fontSize={14.5} fill="#111"
            textLength={p.title.w} lengthAdjust="spacingAndGlyphs">{panelTitles[i]}</text>
          <text x={p.letter.x} y={p.letter.by} textAnchor="middle" fontFamily={TXT} fontSize={14} fill="#111">{panelLetters[i]}</text>
          <text x={p.xl.cx} y={p.xl.by} textAnchor="middle" fontFamily={TXT} fontSize={16} fill="#111"
            textLength={77} lengthAdjust="spacingAndGlyphs">{xLabel}</text>
          <text x={p.yl.cx} y={p.yl.cy} textAnchor="middle" dominantBaseline="central" fontFamily={TXT} fontSize={18} fill="#111"
            transform={`rotate(-90 ${p.yl.cx} ${p.yl.cy})`}>{yLabel}</text>
          <rect x={p.legend.x} y={p.legend.y} width={p.legend.w} height={p.legend.h} rx={1.5} fill="#fff" fillOpacity={0.9}
            stroke="#d0d0d0" strokeWidth={0.7} />
          {p.series.map((s, k) => (
            <g key={k}>
              <line x1={p.legend.x + 2} x2={p.legend.x + 14} y1={p.legend.rows[k]} y2={p.legend.rows[k]} stroke={s.color} strokeWidth={1.1} />
              <text x={p.legend.x + 18} y={p.legend.rows[k]} dominantBaseline="central" fontFamily={TICKF} fontSize={5.6} fill="#333">{s.name}</text>
            </g>
          ))}
        </g>
      ))}
      <text x={487.5} y={1138} textAnchor="middle" dominantBaseline="central" fontFamily={TXT} fontSize={18} fill="#111"
        transform="rotate(-90 487.5 1138)">{yLabel}</text>
    </svg>
  );
}

export default function App() {
  return (
    <div style={{ position: 'absolute', left: 0, top: 0, width: 521, height: 1337, background: '#fff', overflow: 'hidden' }}>
      {panels.map((p, i) => (
        <Panel key={i} cfg={p} />
      ))}
      <Overlay />
    </div>
  );
}
